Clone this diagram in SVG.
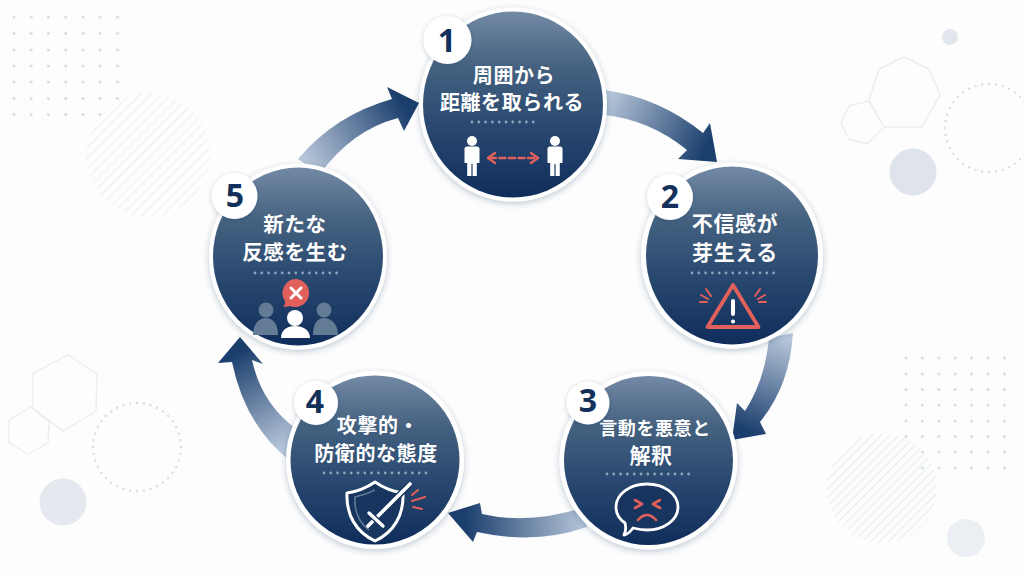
<svg xmlns="http://www.w3.org/2000/svg" width="1024" height="576" viewBox="0 0 1024 576">
<style>
.ring{fill:#fff;filter:url(#sh)}
.disc{fill:url(#disc)}
.badge{fill:#fff;filter:url(#sh2)}
.num{font-family:"Noto Sans","Noto Sans CJK JP",sans-serif;font-weight:700;font-size:32px;fill:#12305a;text-anchor:middle}
.lbl{font-family:"Noto Sans CJK JP","Noto Sans",sans-serif;font-weight:700;font-size:20px;fill:#fff;text-anchor:middle;letter-spacing:.6px}
.sep{stroke:#8ea2ba;stroke-width:2.8;stroke-linecap:round;stroke-dasharray:0 6.8;fill:none}
.red{stroke:#e2605c;fill:none;stroke-linecap:round;stroke-linejoin:round}
.wht{stroke:#fff;fill:none;stroke-linecap:round;stroke-linejoin:round}
.hex{fill:none;stroke:#ebedf0;stroke-width:1.4;stroke-linejoin:round}
.dotc{fill:none;stroke:#d6dde4;stroke-width:2.4;stroke-linecap:round;stroke-dasharray:0 6.9}
.grid{fill:none;stroke:#dbdde0;stroke-width:3.2;stroke-linecap:round}
</style>
<defs>
<filter id="sh" x="-20%" y="-20%" width="140%" height="140%"><feDropShadow dx="0" dy="2" stdDeviation="3" flood-color="#22385a" flood-opacity=".28"/></filter>
<filter id="sh2" x="-30%" y="-30%" width="160%" height="160%"><feDropShadow dx="0" dy="1" stdDeviation="2" flood-color="#22385a" flood-opacity=".25"/></filter>
<linearGradient id="disc" x1="0" y1="0" x2="0" y2="1"><stop offset="0" stop-color="#738aa6"/><stop offset=".3" stop-color="#44617f"/><stop offset=".6" stop-color="#2a4a71"/><stop offset="1" stop-color="#0f2d5b"/></linearGradient>
<linearGradient id="a1" gradientUnits="userSpaceOnUse" x1="607" y1="100" x2="705" y2="150"><stop offset="0" stop-color="#b6c5d9"/><stop offset="1" stop-color="#1b3f6d"/></linearGradient>
<linearGradient id="a2" gradientUnits="userSpaceOnUse" x1="782" y1="337" x2="745" y2="430"><stop offset="0" stop-color="#b6c5d9"/><stop offset="1" stop-color="#1b3f6d"/></linearGradient>
<linearGradient id="a3" gradientUnits="userSpaceOnUse" x1="584" y1="518" x2="465" y2="522"><stop offset="0" stop-color="#b6c5d9"/><stop offset="1" stop-color="#1b3f6d"/></linearGradient>
<linearGradient id="a4" gradientUnits="userSpaceOnUse" x1="291" y1="443" x2="240" y2="352"><stop offset="0" stop-color="#b6c5d9"/><stop offset="1" stop-color="#1b3f6d"/></linearGradient>
<linearGradient id="a5" gradientUnits="userSpaceOnUse" x1="309" y1="165" x2="405" y2="108"><stop offset="0" stop-color="#b6c5d9"/><stop offset="1" stop-color="#1b3f6d"/></linearGradient>
<pattern id="hatch" width="7.2" height="7.2" patternUnits="userSpaceOnUse" patternTransform="rotate(-45)"><rect width="7.2" height="1.2" fill="#eceff2"/></pattern>
<pattern id="hatch2" width="6.2" height="6.2" patternUnits="userSpaceOnUse" patternTransform="rotate(-45)"><rect width="6.2" height="1.2" fill="#e6eef1"/></pattern>
<g id="person"><circle cx="0" cy="-16" r="5"/><path d="M-7.500 -8Q-7.500 -10.500 -5 -10.500H5Q7.500 -10.500 7.500 -8V6H4.800V19H.6V7H-.6V19H-4.800V6H-7.500Z"/></g>
</defs>
<rect width="1024" height="576" fill="#fdfdfe"/>
<g id="background">
<path class="grid" d="M14 17h.01M31.200 17h.01M48.500 17h.01M65.700 17h.01M83 17h.01M100.200 17h.01M117.500 17h.01M14 33.500h.01M31.200 33.500h.01M48.500 33.500h.01M65.700 33.500h.01M83 33.500h.01M100.200 33.500h.01M117.500 33.500h.01M14 50h.01M31.200 50h.01M48.500 50h.01M65.700 50h.01M83 50h.01M100.200 50h.01M117.500 50h.01M14 66h.01M31.200 66h.01M48.500 66h.01M65.700 66h.01M83 66h.01M100.200 66h.01M117.500 66h.01M14 82h.01M31.200 82h.01M48.500 82h.01M65.700 82h.01M83 82h.01M100.200 82h.01M117.500 82h.01M14 98.500h.01M31.200 98.500h.01M48.500 98.500h.01M65.700 98.500h.01M83 98.500h.01M100.200 98.500h.01M117.500 98.500h.01M14 114.500h.01M31.200 114.500h.01M48.500 114.500h.01M65.700 114.500h.01M83 114.500h.01M100.200 114.500h.01"/>
<circle cx="148" cy="155" r="62" fill="url(#hatch)"/>
<circle cx="950" cy="37" r="8" fill="#e2e6ed"/>
<path class="hex" d="M904 57L929 69L940 95L922 127H884L869 100L879 69Z"/>
<path class="hex" d="M869 101L884 127L867 144L849 139L841 123L849 106Z"/>
<circle cx="913" cy="172" r="23.500" fill="#dfe4ec"/>
<circle class="dotc" cx="989" cy="128" r="44"/>
<path class="grid" d="M906 358h.01M922.400 358h.01M938.800 358h.01M955.200 358h.01M971.600 358h.01M988 358h.01M1004.400 358h.01M906 374h.01M922.400 374h.01M938.800 374h.01M955.200 374h.01M971.600 374h.01M988 374h.01M1004.400 374h.01M906 389.500h.01M922.400 389.500h.01M938.800 389.500h.01M955.200 389.500h.01M971.600 389.500h.01M988 389.500h.01M1004.400 389.500h.01M906 405h.01M922.400 405h.01M938.800 405h.01M955.200 405h.01M971.600 405h.01M988 405h.01M1004.400 405h.01M906 421h.01M922.400 421h.01M938.800 421h.01M955.200 421h.01M971.600 421h.01M988 421h.01M1004.400 421h.01M906 436.500h.01M922.400 436.500h.01M938.800 436.500h.01M955.200 436.500h.01M971.600 436.500h.01M988 436.500h.01M1004.400 436.500h.01M922.400 452h.01M938.800 452h.01M955.200 452h.01M971.600 452h.01M988 452h.01M1004.400 452h.01M922.400 468h.01M938.800 468h.01M955.200 468h.01M971.600 468h.01M988 468h.01M1004.400 468h.01"/>
<circle cx="882" cy="488" r="55" fill="url(#hatch2)"/>
<circle cx="966" cy="538" r="19" fill="#ebeef2"/>
<path class="hex" d="M68 355L97 374L96 411L63 431L33 408L33 373Z"/>
<path class="hex" d="M31 407L49 422L48 443L28 454L9 443L9 420Z"/>
<circle class="dotc" cx="137" cy="447" r="44"/>
<circle cx="63" cy="502" r="23.500" fill="#e5e8ef"/>
</g>
<g id="connectors">
<path fill="url(#a1)" d="M605 90Q660 98 703 133L710 123L717 162L678 159L687 150Q650 120 605 115Z"/>
<path fill="url(#a2)" d="M793 333Q790 385 760 422L766 434L732 440L737 403L745 411Q765 380 769 338Z"/>
<path fill="url(#a3)" d="M585 507Q530 525 482 514L480 503L448 513L473 542L477 532Q535 545 587 527Z"/>
<path fill="url(#a4)" d="M298 430Q262 405 252 360L263 364L240 337L218 363L232 362Q245 425 289 460Z"/>
<path fill="url(#a5)" d="M298 159Q335 115 392 99L387 87L419 103L404 131L398 118Q352 130 320 174Z"/>
</g>
<g id="node1">
<ellipse class="ring" cx="513" cy="104.500" rx="94" ry="97"/>
<ellipse class="disc" cx="513" cy="104.500" rx="90" ry="93"/>
<text class="lbl" x="514" y="83">周囲から</text>
<text class="lbl" x="512" y="110">距離を取られる</text>
<path class="sep" d="M472 122H540"/>
<use href="#person" x="472" y="157" fill="#fff"/>
<use href="#person" x="555" y="157" fill="#fff"/>
<path class="red" stroke-width="2.500" stroke-dasharray="6 3.500" d="M490 158H536"/>
<path class="red" stroke-width="2.500" d="M495 153L488 158L495 163M531 153L538 158L531 163"/>
<circle class="badge" cx="447.500" cy="40" r="24"/>
<text class="num" x="447" y="52">1</text>
</g>
<g id="node2">
<ellipse class="ring" cx="732" cy="255.500" rx="91" ry="93"/>
<ellipse class="disc" cx="732" cy="255.500" rx="86" ry="89"/>
<text class="lbl" x="735" y="231" style="font-size:21px">不信感が</text>
<text class="lbl" x="735" y="260" style="font-size:21px">芽生える</text>
<path class="sep" d="M692 273H775"/>
<path class="red" stroke-width="3.800" d="M733 285L707.500 327H758.500Z"/>
<path class="wht" stroke-width="4" d="M733 301V314M733 321.500V321.600"/>
<path class="red" stroke-width="2" d="M706 289L711 296M701 295L708 299M700 302H707M760 289L755 296M765 295L758 299M766 302H759"/>
<circle class="badge" cx="670" cy="197" r="23"/>
<text class="num" x="670" y="208">2</text>
</g>
<g id="node3">
<circle class="ring" cx="648.500" cy="460.500" r="89"/>
<circle class="disc" cx="648.500" cy="460.500" r="84.500"/>
<text class="lbl" x="655" y="435" style="font-size:18px">言動を悪意と</text>
<text class="lbl" x="651" y="463" style="font-size:21px">解釈</text>
<path class="sep" d="M607 474H689"/>
<path fill="#17355f" stroke="#fff" stroke-width="2.800" stroke-linejoin="round" d="M647 484C664 484 678 494 678 507C678 520 664 530 647 530C642 530 637 529 633 528C630 532 627 535 624 535C626 531 626 527 625 523C619 519 616 513 616 507C616 494 630 484 647 484Z"/>
<path class="red" stroke-width="2.600" d="M635 500L642 504L635 508M660 500L653 504L660 508M638 520Q647 510 656 520"/>
<circle class="badge" cx="588" cy="403" r="21.500"/>
<text class="num" x="588" y="412">3</text>
</g>
<g id="node4">
<circle class="ring" cx="375" cy="460" r="89"/>
<circle class="disc" cx="375" cy="460" r="84.500"/>
<text class="lbl" x="378" y="433">攻撃的・</text>
<text class="lbl" x="376" y="461">防衛的な態度</text>
<path class="sep" d="M324 473H429"/>
<path class="wht" stroke-width="3" style="fill:#17355f" d="M375 482Q362 491 347 493C346 515 356 532 375 541C394 532 404 515 403 493Q388 491 375 482Z"/>
<path fill="none" stroke="#5f7894" stroke-width="1.600" d="M375 490Q365 495 355 497C354 513 361 524 369 530"/>
<path fill="none" stroke="#17355f" stroke-width="6.500" stroke-linecap="round" d="M371 524L408 486"/>
<path class="wht" stroke-width="3.600" d="M368 526L410 484"/>
<path fill="none" stroke="#17355f" stroke-width="6" stroke-linecap="round" d="M369 513L383 526"/>
<path class="wht" stroke-width="3.400" d="M369 513L383 526"/>
<path class="red" stroke-width="2" d="M412 495L418 490M412 501L425 497M413 507L422 509"/>
<circle class="badge" cx="316" cy="403" r="22"/>
<text class="num" x="315" y="413">4</text>
</g>
<g id="node5">
<ellipse class="ring" cx="298" cy="256.500" rx="89" ry="93"/>
<ellipse class="disc" cx="298" cy="256.500" rx="85" ry="89"/>
<text class="lbl" x="295" y="232" style="font-size:20.500px">新たな</text>
<text class="lbl" x="295" y="260" style="font-size:20.500px">反感を生む</text>
<path class="sep" d="M255 273H339"/>
<g fill="#647b95">
<circle cx="266" cy="310" r="7.500"/><path d="M253 335C253 323 260 318 266 318C272 318 278 323 278 335Z"/>
<circle cx="324" cy="310" r="7.500"/><path d="M313 335C313 323 318 318 324 318C330 318 338 323 338 335Z"/>
</g>
<circle cx="295" cy="318" r="8" fill="#fff"/>
<path fill="#fff" d="M281 338C281 330 287 326 295 326C303 326 310 330 310 338Z"/>
<path fill="#e2605c" d="M296 279A14 14 0 1 1 290 306Q287 307 283 307Q286 304 285 301A14 14 0 0 1 296 279Z"/>
<path class="wht" stroke-width="3" d="M291 288L301 298M301 288L291 298"/>
<circle class="badge" cx="234.500" cy="196" r="23"/>
<text class="num" x="235" y="207">5</text>
</g>
</svg>
